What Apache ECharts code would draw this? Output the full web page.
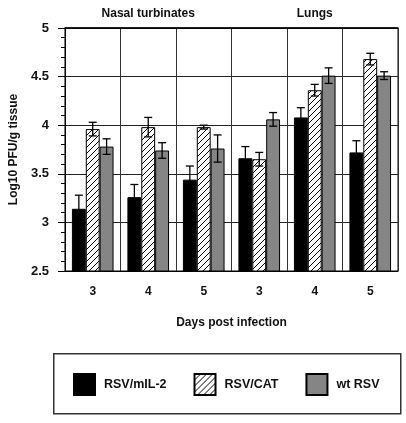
<!DOCTYPE html>
<html>
<head>
<meta charset="utf-8">
<script src="https://cdn.jsdelivr.net/npm/echarts@6/dist/echarts.min.js"></script>
<style>html,body{margin:0;padding:0;background:#fff}#c{width:406px;height:423px}</style>
</head>
<body>
<div id="c"></div>
<script>
const days = ['3','4','5','3','4','5'];
const tissues = ['Nasal turbinates','Lungs'];
const seriesNames = ['RSV/mIL-2','RSV/CAT','wt RSV'];
const yTicks = [2.5, 3, 3.5, 4, 4.5, 5];
const rsvMil2 = [3.14, 3.26, 3.44, 3.66, 4.08, 3.72];
const rsvMil2Err = [0.14, 0.13, 0.14, 0.12, 0.10, 0.12];
const rsvCat = [3.96, 3.98, 3.98, 3.65, 4.36, 4.68];
const rsvCatErr = [0.07, 0.10, 0.02, 0.07, 0.06, 0.06];
const wtRsv = [3.78, 3.74, 3.76, 4.06, 4.51, 4.51];
const wtRsvErr = [0.08, 0.08, 0.14, 0.07, 0.08, 0.04];

const FONT = 'Liberation Sans';

// hatch pattern
const pc = document.createElement('canvas');
pc.width = 6; pc.height = 6;
const g = pc.getContext('2d');
g.fillStyle = '#fff'; g.fillRect(0,0,6,6);
g.strokeStyle = '#000'; g.lineWidth = 1;
g.beginPath();
g.moveTo(0,6); g.lineTo(6,0);
g.moveTo(-3,3); g.lineTo(3,-3);
g.moveTo(3,9); g.lineTo(9,3);
g.stroke();

const values = [rsvMil2, rsvCat, wtRsv];
const errs = [rsvMil2Err, rsvCatErr, wtRsvErr];
const colors = ['#000', {image: pc, repeat: 'repeat'}, '#858585'];

const series = [];
values.forEach((v, i) => {
  series.push({
    name: seriesNames[i], type: 'bar', data: v,
    barGap: '0%', barCategoryGap: '25%',
    itemStyle: {color: colors[i], borderColor: '#000', borderWidth: 1},
    z: 3
  });
});
values.forEach((v, i) => {
  series.push({
    type: 'custom', z: 5, silent: true,
    data: v.map((val, k) => [k, val - errs[i][k], val + errs[i][k]]),
    renderItem: function (params, api) {
      const k = api.value(0);
      const band = api.size([1, 0])[0];
      const bw = band * 0.75 / 3;
      const c = api.coord([k, api.value(2)]);
      const lo = api.coord([k, api.value(1)]);
      const x = c[0] + (i - 1) * bw;
      const hw = 4;
      const st = {stroke: '#000', lineWidth: 1.3};
      return {type: 'group', children: [
        {type: 'line', shape: {x1: x, y1: lo[1], x2: x, y2: c[1]}, style: st},
        {type: 'line', shape: {x1: x - hw, y1: c[1], x2: x + hw, y2: c[1]}, style: st},
        {type: 'line', shape: {x1: x - hw, y1: lo[1], x2: x + hw, y2: lo[1]}, style: st}
      ]};
    }
  });
});

const chart = echarts.init(document.getElementById('c'));
chart.setOption({
  animation: false,
  backgroundColor: '#fff',
  grid: {left: 62, right: 8, top: 28, bottom: 152, show: true, borderColor: '#000', borderWidth: 1},
  graphic: [{
    type: 'rect', left: 53, top: 353, z: 0,
    shape: {width: 347, height: 60},
    style: {fill: '#fff', stroke: '#333', lineWidth: 1.5}
  }],
  legend: {
    data: seriesNames, left: 73, top: 373, width: 330, icon: 'rect',
    orient: 'horizontal', z: 10,
    itemWidth: 21, itemHeight: 21, itemGap: 27,
    padding: 0,
    textStyle: {fontFamily: FONT, fontWeight: 'bold', fontSize: 12.5, color: '#111', padding: [0,0,0,4]}
  },
  xAxis: [{
    type: 'category', data: days,
    name: 'Days post infection', nameLocation: 'middle', nameGap: 46,
    nameTextStyle: {fontFamily: FONT, fontWeight: 'bold', fontSize: 12, color: '#111'},
    axisLine: {lineStyle: {color: '#000', width: 1}},
    axisTick: {length: 7, lineStyle: {color: '#000'}},
    axisLabel: {fontFamily: FONT, fontWeight: 'bold', fontSize: 12, color: '#111', margin: 15},
    splitLine: {show: true, lineStyle: {color: '#333', width: 1}}
  }, {
    type: 'category', data: tissues, position: 'top',
    axisLine: {show: true, lineStyle: {color: '#000', width: 1.5}},
    axisTick: {length: 18, lineStyle: {color: '#000'}},
    axisLabel: {fontFamily: FONT, fontWeight: 'bold', fontSize: 12, color: '#111', margin: 8}
  }],
  yAxis: {
    type: 'value', min: 2.5, max: 5, interval: 0.5,
    name: 'Log10 PFU/g tissue', nameLocation: 'middle', nameGap: 43, nameRotate: 90,
    nameTextStyle: {fontFamily: FONT, fontWeight: 'bold', fontSize: 12, color: '#111'},
    axisLine: {show: true, lineStyle: {color: '#000'}},
    axisTick: {show: true, length: 7, lineStyle: {color: '#000'}},
    minorTick: {show: true, splitNumber: 5, length: 4, lineStyle: {color: '#000'}},
    axisLabel: {fontFamily: FONT, fontWeight: 'bold', fontSize: 13, color: '#111', margin: 16,
      formatter: v => String(v)},
    splitLine: {show: true, lineStyle: {color: '#222', width: 1}}
  },
  series: series
});
</script>
</body>
</html>
